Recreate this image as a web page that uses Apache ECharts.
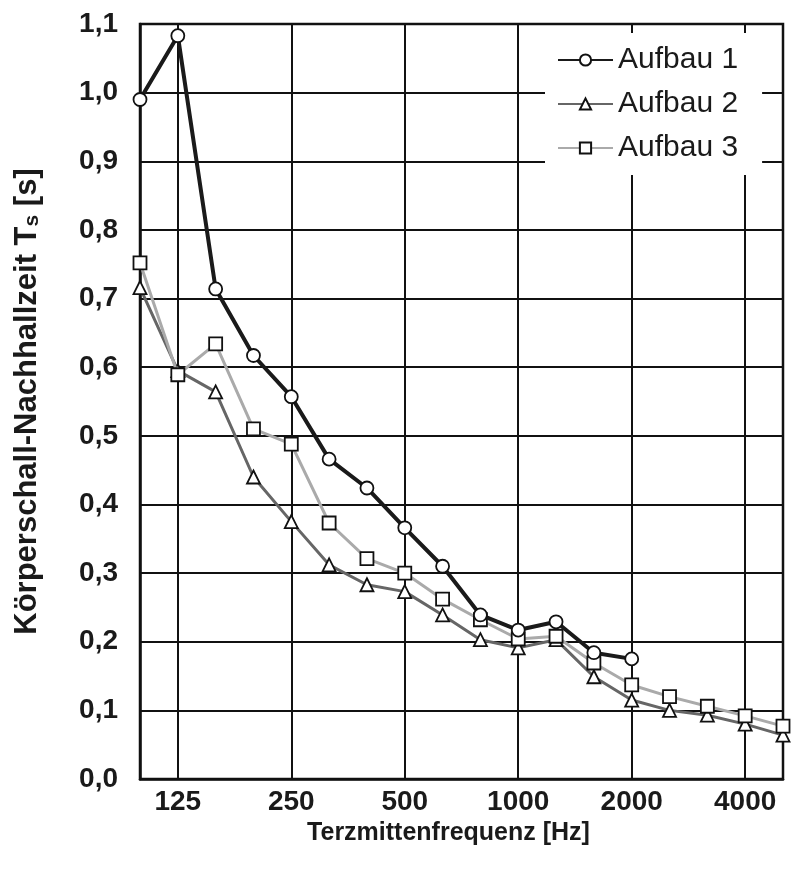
<!DOCTYPE html>
<html>
<head>
<meta charset="utf-8">
<script src="https://cdn.jsdelivr.net/npm/echarts@6/dist/echarts.min.js"></script>
<style>
  html, body { margin: 0; padding: 0; background: #fff; }
  #main { width: 792px; height: 880px; }
</style>
</head>
<body>
<div id="main"></div>
<script>
// Terzmittenfrequenzen (x-Achse)
var freqs = ['100', '125', '160', '200', '250', '315', '400', '500', '630',
  '800', '1000', '1250', '1600', '2000', '2500', '3150', '4000', '5000'];
// Körperschall-Nachhallzeit in s
var aufbau1 = [0.99, 1.083, 0.714, 0.617, 0.557, 0.466, 0.424, 0.366, 0.31,
  0.239, 0.217, 0.229, 0.184, 0.175];
var aufbau2 = [0.716, 0.595, 0.564, 0.44, 0.375, 0.312, 0.283, 0.273, 0.239,
  0.203, 0.191, 0.203, 0.149, 0.115, 0.10, 0.093, 0.080, 0.064];
var aufbau3 = [0.752, 0.589, 0.634, 0.51, 0.488, 0.373, 0.321, 0.30, 0.262,
  0.232, 0.204, 0.208, 0.169, 0.137, 0.12, 0.106, 0.092, 0.077];
var seriesNames = ['Aufbau 1', 'Aufbau 2', 'Aufbau 3'];

(function() {
  var myChart = echarts.init(document.getElementById('main'));
  var font = 'Liberation Sans, Arial, sans-serif';
  // nur jede dritte Terz (Oktavmitte) beschriften
  var octave = function(index) { return index % 3 === 1; };

  var option = {
    animation: false,
    grid: {
      left: 140,
      right: 9,
      top: 24,
      bottom: 101,
      show: true,
      borderColor: '#111',
      borderWidth: 2.5
    },
    legend: {
      data: seriesNames,
      orient: 'vertical',
      left: 545,
      top: 33,
      padding: [12, 24, 12, 12],
      backgroundColor: '#fff',
      itemWidth: 55,
      itemHeight: 14,
      itemGap: 14,
      textStyle: {
        fontFamily: font,
        fontSize: 30,
        color: '#1a1a1a'
      }
    },
    xAxis: {
      type: 'category',
      data: freqs,
      boundaryGap: false,
      name: 'Terzmittenfrequenz [Hz]',
      nameLocation: 'middle',
      nameGap: 31,
      nameTextStyle: {
        fontFamily: font,
        fontWeight: 'bold',
        fontSize: 25,
        color: '#1a1a1a',
        padding: [0, 26, 0, 0]
      },
      axisLine: { lineStyle: { color: '#111', width: 2.5 } },
      axisTick: { show: false },
      axisLabel: {
        interval: octave,
        margin: 9,
        fontFamily: font,
        fontWeight: 'bold',
        fontSize: 28,
        color: '#1a1a1a'
      },
      splitLine: {
        show: true,
        interval: octave,
        lineStyle: { color: '#111', width: 2 }
      }
    },
    yAxis: {
      type: 'value',
      min: 0,
      max: 1.1,
      interval: 0.1,
      name: 'Körperschall-Nachhallzeit T{sub|s} [s]',
      nameLocation: 'middle',
      nameGap: 97,
      nameTextStyle: {
        fontFamily: font,
        fontWeight: 'bold',
        fontSize: 31,
        color: '#1a1a1a',
        rich: {
          sub: {
            fontFamily: font,
            fontWeight: 'bold',
            fontSize: 21,
            color: '#1a1a1a',
            padding: [11, 0, 0, 0]
          }
        }
      },
      axisLine: { show: true, lineStyle: { color: '#111', width: 2.5 } },
      axisTick: { show: false },
      axisLabel: {
        margin: 22,
        fontFamily: font,
        fontWeight: 'bold',
        fontSize: 28,
        color: '#1a1a1a',
        formatter: function(v) { return v.toFixed(1).replace('.', ','); }
      },
      splitLine: { lineStyle: { color: '#111', width: 2 } }
    },
    series: [
      {
        name: seriesNames[0],
        type: 'line',
        data: aufbau1,
        z: 5,
        symbol: 'circle',
        symbolSize: 13,
        lineStyle: { color: '#1a1a1a', width: 4 },
        itemStyle: { color: '#fff', borderColor: '#111', borderWidth: 1.8 }
      },
      {
        name: seriesNames[1],
        type: 'line',
        data: aufbau2,
        z: 3,
        symbol: 'triangle',
        symbolSize: 13,
        lineStyle: { color: '#666666', width: 3 },
        itemStyle: { color: '#fff', borderColor: '#111', borderWidth: 1.8 }
      },
      {
        name: seriesNames[2],
        type: 'line',
        data: aufbau3,
        z: 4,
        symbol: 'rect',
        symbolSize: 13,
        lineStyle: { color: '#aaaaaa', width: 3 },
        itemStyle: { color: '#fff', borderColor: '#111', borderWidth: 1.8 }
      }
    ]
  };

  myChart.setOption(option);
})();
</script>
</body>
</html>
